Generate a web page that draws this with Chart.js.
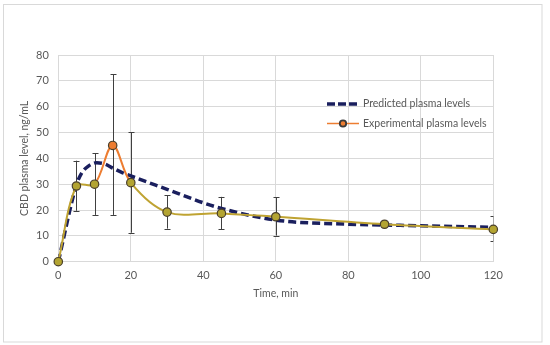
<!DOCTYPE html>
<html>
<head>
<meta charset="utf-8">
<script src="https://cdn.jsdelivr.net/npm/chart.js@4/dist/chart.umd.min.js"></script>
<style>
  html, body { margin: 0; padding: 0; background: #ffffff; }
  #wrap { position: relative; width: 550px; height: 345px; }
</style>
</head>
<body>
<div id="wrap"><canvas id="c" width="550" height="345"></canvas></div>
<script>
// ---- data ----
const timePoints   = [0, 5, 10, 15, 20, 30, 45, 60, 90, 120];
const experimental = [0, 29.3, 30.0, 45.0, 30.6, 19.2, 18.7, 17.4, 14.5, 12.5];
const errUpper     = [null, 39.1, 41.9, 72.6, 50.2, 25.8, 25.1, 24.9, null, 17.7];
const errLower     = [null, 19.7, 18.1, 18.1, 11.2, 12.8, 12.5, 10.1, null, 8.0];

const predictedTime = [0, 5, 6.4, 8.3, 10.6, 12.9, 15.2, 17.5, 20, 30, 40, 45, 60, 80, 90, 100, 120];
const predicted     = [0, 29.7, 34.2, 37.0, 38.3, 37.8, 36.1, 34.6, 33.2, 28.0, 22.8, 20.6, 16.1, 14.5, 14.2, 13.9, 13.3];

const seriesNames = ['Predicted plasma levels', 'Experimental plasma levels'];
const xTitle = 'Time, min';
const yTitle = 'CBD plasma level, ng/mL';
const xTicks = [0, 20, 40, 60, 80, 100, 120];
const yTicks = [0, 10, 20, 30, 40, 50, 60, 70, 80];

const FONT = 'Lato, "Liberation Sans", sans-serif';
const GREY = '#595959';
const NAVY = '#1a1f5e';
const ORANGE = '#ed7d31';
const GOLD = '#bfa332';
const OLIVE = '#b3a431';

const expData = timePoints.map((t, i) => ({x: t, y: experimental[i]}));
const predData = predictedTime.map((t, i) => ({x: t, y: predicted[i]}));
const orangeSegs = new Set([2, 3]);

const frame = {
  id: 'frame',
  beforeDraw(chart) {
    const ctx = chart.ctx;
    ctx.save();
    ctx.fillStyle = '#ffffff';
    ctx.fillRect(0, 0, chart.width, chart.height);
    ctx.strokeStyle = '#d9d9d9';
    ctx.lineWidth = 1;
    ctx.strokeRect(3.5, 4.5, 538.5, 337.5);
    ctx.restore();
  }
};

const errorBars = {
  id: 'errorBars',
  beforeDatasetsDraw(chart) {
    const {ctx, chartArea, scales: {x, y}} = chart;
    ctx.save();
    ctx.beginPath();
    ctx.rect(chartArea.left, chartArea.top - 30, chartArea.right - chartArea.left, chartArea.bottom - chartArea.top + 60);
    ctx.clip();
    ctx.strokeStyle = '#404040';
    ctx.lineWidth = 1;
    timePoints.forEach((t, i) => {
      if (errUpper[i] == null) return;
      const px = Math.round(x.getPixelForValue(t)) + 0.5;
      const pt = y.getPixelForValue(errUpper[i]);
      const pb = y.getPixelForValue(errLower[i]);
      ctx.beginPath();
      ctx.moveTo(px, pt); ctx.lineTo(px, pb);
      ctx.moveTo(px - 3, Math.round(pt) + 0.5); ctx.lineTo(px + 3, Math.round(pt) + 0.5);
      ctx.moveTo(px - 3, Math.round(pb) + 0.5); ctx.lineTo(px + 3, Math.round(pb) + 0.5);
      ctx.stroke();
    });
    ctx.restore();
  }
};

const legendDraw = {
  id: 'legendDraw',
  afterDraw(chart) {
    const ctx = chart.ctx;
    ctx.save();
    ctx.font = '10.5px ' + FONT;
    ctx.fillStyle = GREY;
    ctx.textBaseline = 'middle';
    ctx.textAlign = 'left';
    // predicted
    ctx.strokeStyle = NAVY;
    ctx.lineWidth = 3.5;
    ctx.setLineDash([8, 3]);
    ctx.beginPath();
    ctx.moveTo(327, 104); ctx.lineTo(359, 104);
    ctx.stroke();
    ctx.setLineDash([]);
    ctx.fillText(seriesNames[0], 363, 104);
    // experimental
    ctx.strokeStyle = ORANGE;
    ctx.lineWidth = 1.5;
    ctx.beginPath();
    ctx.moveTo(327, 123.5); ctx.lineTo(359, 123.5);
    ctx.stroke();
    ctx.beginPath();
    ctx.arc(343, 123.5, 3.2, 0, Math.PI * 2);
    ctx.fillStyle = ORANGE;
    ctx.fill();
    ctx.lineWidth = 1.8;
    ctx.strokeStyle = '#3a3a3a';
    ctx.stroke();
    ctx.fillStyle = GREY;
    ctx.fillText(seriesNames[1], 363, 123.5);
    ctx.restore();
  }
};

new Chart(document.getElementById('c'), {
  type: 'line',
  data: {
    datasets: [
      {
        label: seriesNames[1],
        data: expData,
        borderColor: GOLD,
        borderWidth: 2,
        tension: 0.35,
        clip: false,
        segment: {
          borderColor: ctx => orangeSegs.has(ctx.p0DataIndex) ? ORANGE : GOLD
        },
        pointRadius: 4.2,
        pointHoverRadius: 4.2,
        pointBorderWidth: 1.2,
        pointBackgroundColor: experimental.map((v, i) => i === 3 ? ORANGE : OLIVE),
        pointBorderColor: '#4a3f2a',
        order: 1
      },
      {
        label: seriesNames[0],
        data: predData,
        borderColor: NAVY,
        borderWidth: 3.5,
        borderDash: [8, 4],
        cubicInterpolationMode: 'monotone',
        pointRadius: 0,
        pointHoverRadius: 0,
        fill: false,
        order: 2
      }
    ]
  },
  options: {
    responsive: false,
    animation: false,
    events: [],
    layout: { padding: { left: 18, top: 55, right: 56.7, bottom: 44.8 } },
    plugins: {
      legend: { display: false },
      tooltip: { enabled: false },
      title: { display: false }
    },
    scales: {
      x: {
        type: 'linear',
        min: 0, max: 120,
        afterFit: s => { s.height = 38.5; },
        afterBuildTicks: s => { s.ticks = xTicks.map(v => ({value: v})); },
        grid: { color: '#d9d9d9', lineWidth: 1, drawTicks: false },
        border: { color: '#d9d9d9', width: 1 },
        ticks: { color: GREY, font: { family: FONT, size: 11 }, padding: 7, maxRotation: 0 },
        title: { display: true, text: xTitle, color: GREY, font: { family: FONT, size: 10.5 }, padding: 0 }
      },
      y: {
        type: 'linear',
        min: 0, max: 80,
        afterFit: s => { s.width = 40.3; },
        afterBuildTicks: s => { s.ticks = yTicks.map(v => ({value: v})); },
        grid: { color: '#d9d9d9', lineWidth: 1, drawTicks: false },
        border: { color: '#d9d9d9', width: 1 },
        ticks: { color: GREY, font: { family: FONT, size: 11 }, padding: 9.5 },
        title: { display: true, text: yTitle, color: GREY, font: { family: FONT, size: 10.5 }, padding: 0 }
      }
    }
  },
  plugins: [frame, errorBars, legendDraw]
});
</script>
</body>
</html>
